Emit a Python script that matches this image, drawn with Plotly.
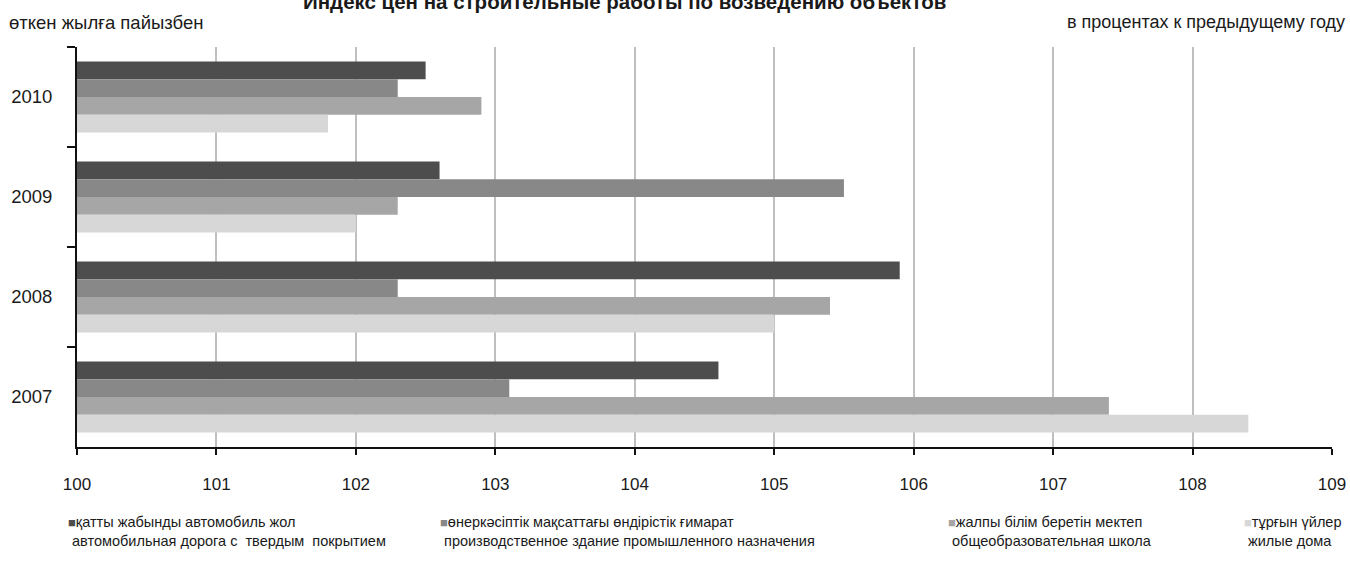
import plotly.graph_objects as go

years = ["2010", "2009", "2008", "2007"]
series_kz = ["қатты жабынды автомобиль жол",
             "өнеркәсіптік мақсаттағы өндірістік ғимарат",
             "жалпы білім беретін мектеп",
             "тұрғын үйлер"]
series_ru = ["автомобильная дорога с  твердым  покрытием",
             "производственное здание промышленного назначения",
             "общеобразовательная школа",
             "жилые дома"]
road = [102.5, 102.6, 105.9, 104.6]
industrial = [102.3, 105.5, 102.3, 103.1]
school = [102.9, 102.3, 105.4, 107.4]
houses = [101.8, 102.0, 105.0, 108.4]
colors = ["#4d4d4d", "#888888", "#a6a6a6", "#d7d7d7"]
x_ticks = [100, 101, 102, 103, 104, 105, 106, 107, 108, 109]
legend_x = [66, 438, 946, 1242]

FONT = "Liberation Sans, Arial, sans-serif"
W, H = 1350, 566
ML, MR, MT, MB = 77, 18, 47, 119

fig = go.Figure()
for name, vals, col in zip(series_kz, [road, industrial, school, houses], colors):
    fig.add_trace(go.Bar(
        y=years, x=vals, orientation="h", name=name,
        marker=dict(color=col, line=dict(width=0)),
        base=0, showlegend=False,
    ))

fig.update_layout(
    width=W, height=H,
    margin=dict(l=ML, r=MR, t=MT, b=MB, pad=0, autoexpand=False),
    paper_bgcolor="white", plot_bgcolor="white",
    barmode="group", bargap=0.29, bargroupgap=0,
    font=dict(family=FONT, color="#1a1a1a"),
    xaxis=dict(
        range=[100, 109], tickvals=x_ticks, ticktext=[str(v) for v in x_ticks],
        showgrid=True, gridcolor="#bfbfbf", gridwidth=2,
        showline=True, linecolor="#111111", linewidth=2,
        ticks="outside", ticklen=6, tickwidth=2, tickcolor="#111111",
        tickfont=dict(size=17, family=FONT, color="#1a1a1a"),
        ticklabelstandoff=15, zeroline=False, automargin=False,
    ),
    yaxis=dict(
        type="category", categoryorder="array", categoryarray=years,
        autorange="reversed",
        showline=True, linecolor="#111111", linewidth=2,
        ticks="outside", ticklen=8, tickwidth=2, tickcolor="#111111",
        tickson="boundaries",
        tickfont=dict(size=18.5, family=FONT, color="#1a1a1a"),
        ticklabelstandoff=19, showgrid=False, zeroline=False, automargin=False,
    ),
)

def px_to_paper_x(px):
    return (px - ML) / (W - ML - MR)

def py_to_paper_y(py):
    return 1 - (py - MT) / (H - MT - MB)

annotations = [
    dict(text="<b>Индекс цен на строительные работы по возведению объектов</b>",
         x=px_to_paper_x(624), y=py_to_paper_y(1), xref="paper", yref="paper",
         xanchor="center", yanchor="middle", showarrow=False,
         font=dict(size=20.5, family=FONT, color="#1a1a1a")),
    dict(text="өткен жылға пайызбен",
         x=px_to_paper_x(7), y=py_to_paper_y(22), xref="paper", yref="paper",
         xanchor="left", yanchor="middle", showarrow=False,
         font=dict(size=18.5, family=FONT, color="#1a1a1a")),
    dict(text="в процентах к предыдущему году",
         x=px_to_paper_x(1347), y=py_to_paper_y(22), xref="paper", yref="paper",
         xanchor="right", yanchor="middle", showarrow=False,
         font=dict(size=18, family=FONT, color="#1a1a1a")),
]
for kz, ru, col, lx in zip(series_kz, series_ru, colors, legend_x):
    annotations.append(dict(
        text=f"<span style='color:{col};font-size:13px'>■</span>{kz}<br>&nbsp;{ru}",
        x=px_to_paper_x(lx), y=py_to_paper_y(531), xref="paper", yref="paper",
        xanchor="left", yanchor="middle", align="left", showarrow=False,
        font=dict(size=14.5, family=FONT, color="#1a1a1a")))
fig.update_layout(annotations=annotations)

fig.write_html("out.html", config={"displayModeBar": False},
               post_script="document.body.style.margin='0';document.body.style.overflow='hidden';")
